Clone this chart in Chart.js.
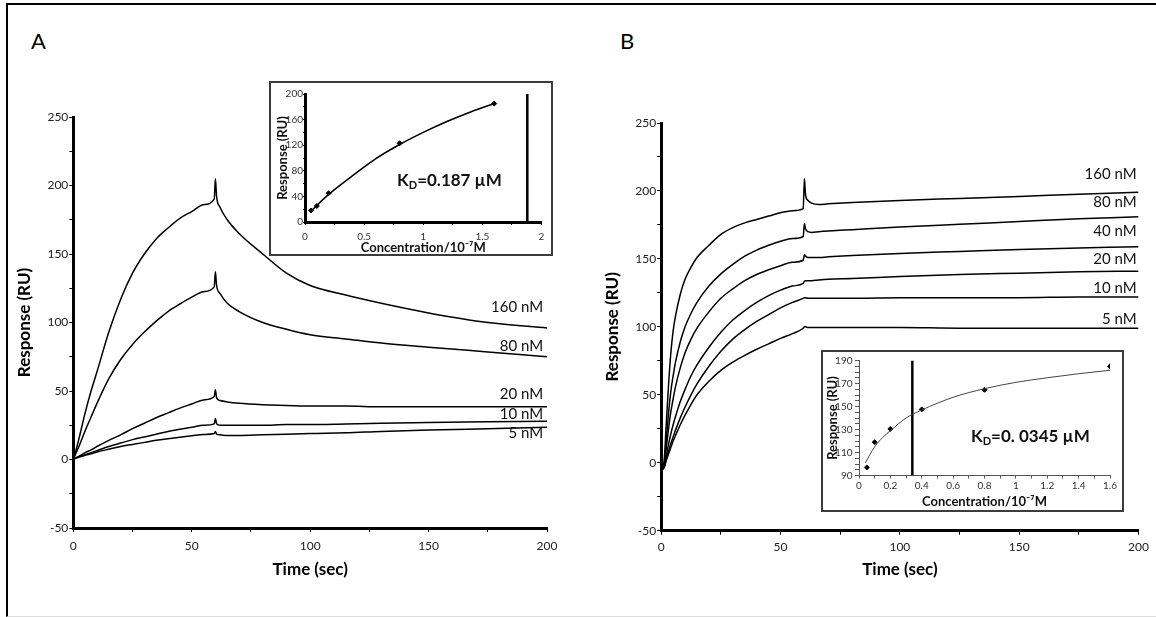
<!DOCTYPE html>
<html>
<head>
<meta charset="utf-8">
<script src="https://cdn.jsdelivr.net/npm/chart.js@4.4.1/dist/chart.umd.min.js"></script>
<style>
html, body { margin: 0; padding: 0; background: #fff; }
body { width: 1156px; height: 617px; position: relative; overflow: hidden; font-family: Lato, "Open Sans", sans-serif; }
.frame { position: absolute; left: 6px; top: 3px; width: 1150px; height: 611px; border-top: 2px solid #000; border-left: 2px solid #000; border-bottom: 1px solid #ddd; }
.letter { position: absolute; font-size: 22px; line-height: 1; color: #000; }
.box { position: absolute; box-sizing: border-box; border: 2px solid #3c3c3c; background: #fff; }
canvas { position: absolute; }
</style>
</head>
<body>
<div class="frame"></div>
<div class="letter" style="left:31px; top:30px;">A</div>
<div class="letter" style="left:620px; top:30px;">B</div>

<canvas id="mainA" width="560" height="490" style="left:10px; top:95px;"></canvas>
<canvas id="mainB" width="556" height="485" style="left:598px; top:100px;"></canvas>

<div class="box" style="left:269px; top:81px; width:284px; height:175px;"></div>
<canvas id="insetA" width="280" height="171" style="left:271px; top:83px;"></canvas>

<div class="box" style="left:821px; top:350px; width:303px; height:162px;"></div>
<canvas id="insetB" width="299" height="158" style="left:823px; top:352px;"></canvas>

<script>
// ---- panel A sensorgram (time in s, response in RU) ----
var timeA = [0, 1, 2.5, 5, 7.5, 10, 15, 20, 25, 30, 35, 40, 45, 50, 55, 59.5, 60, 60.5, 62, 65, 70, 80, 90, 100, 115, 130, 150, 175, 200];
var a160 = [0, 6, 16, 34, 50, 64, 93, 117, 136, 150, 161, 169, 176, 181, 186, 190, 205, 192, 184, 175, 165, 150, 136, 127, 120, 114, 107, 100, 96];
var a80  = [0, 4, 10, 21, 31, 41, 59, 73, 84, 93, 101, 108, 113.5, 118.5, 122.5, 126, 137, 127, 121, 114, 108, 100, 95, 91, 88, 85, 82, 78.5, 75];
var a20  = [0, 1, 2.5, 5, 7, 9.5, 14, 18, 22.5, 26.5, 30.5, 34, 37.5, 40.5, 43.5, 46, 51, 45, 43, 42, 41, 40, 39.5, 39, 39, 38.5, 38.5, 38.5, 38.5];
var a10  = [0, 1, 2, 3.5, 5, 6.5, 9.5, 12, 14.5, 16.5, 18.5, 20.5, 22, 23.5, 25, 26, 30, 26, 25, 25, 25, 25, 25.5, 25.5, 26, 26.5, 27, 27.5, 28];
var a5   = [0, 0.8, 1.8, 3, 4.2, 5.5, 7.5, 9.5, 11, 12.5, 14, 15.2, 16.3, 17.3, 18.3, 19, 20.5, 18.5, 18, 17.5, 17.5, 18, 18.5, 19, 19.5, 20.5, 21.5, 22.5, 23.5];
var namesA = ['160 nM', '80 nM', '20 nM', '10 nM', '5 nM'];
var labelYA = [111.3, 82.8, 47.8, 33.2, 19.0];

// ---- panel B sensorgram ----
var timeB = [0, 0.5, 1, 1.5, 2, 3, 4, 5, 6, 8, 10, 12.5, 15, 20, 25, 30, 35, 40, 45, 50, 55, 59.5, 60, 60.5, 61.5, 63, 66, 70, 80, 100, 125, 150, 175, 200];
var b160 = [0, -3, -2, 8, 25, 55, 80, 97, 108, 124, 135, 144, 151, 160, 168, 173, 176.5, 179, 181.5, 184, 185.5, 187, 209, 197, 193, 191, 190, 190.5, 191.5, 193, 194.5, 196, 197.5, 199];
var b80  = [0, -4, -3, 3, 14, 35, 52, 64, 74, 89, 100, 110, 118, 130, 139, 146, 152, 156.5, 160, 163, 165, 166.5, 176, 172, 170, 169.5, 170, 170.5, 171.5, 173.5, 175.5, 177.5, 179.5, 181];
var b40  = [0, -4, -4, 1, 9, 24, 37, 47, 56, 70, 81, 91, 99, 111, 121, 128, 134, 138.5, 142, 145, 147.5, 149, 153, 152, 151, 151, 151, 151.5, 152.5, 154, 155.5, 157, 158, 159];
var b20  = [0, -5, -4, -1, 4, 13, 21, 28, 34, 45, 54, 64, 72, 85, 96, 105, 112, 118, 123, 127, 130, 132, 133.5, 134, 134, 134, 134.5, 135, 135.5, 137, 138.5, 139.5, 140.5, 141];
var b10  = [0, -5, -4, -2, 2, 8, 14, 19, 24, 33, 41, 50, 58, 71, 82, 91, 98, 104, 109, 114, 118, 121, 121.5, 121.5, 121, 121, 121, 121, 121, 121.5, 121.5, 121.5, 122, 122];
var b5   = [0, -5, -4, -2, 1, 6, 11, 16, 20, 28, 35, 43, 50, 60, 68, 74, 79, 83.5, 87.5, 91.5, 95, 99, 100, 100, 99.5, 99.5, 99.5, 99.5, 99.5, 99.5, 99, 99, 99, 99];
var namesB = ['160 nM', '80 nM', '40 nM', '20 nM', '10 nM', '5 nM'];
var labelYB = [212, 191.9, 170.6, 150, 128.6, 105.8];

// ---- insets: steady-state response vs concentration (10^-7 M) ----
var concA = [0.05, 0.1, 0.2, 0.8, 1.6];
var respA = [18, 25, 45, 123, 185];
var fitXA = [0.05, 0.2, 0.4, 0.6, 0.8, 1.0, 1.2, 1.4, 1.6];
var fitYA = [17, 43, 72, 99, 121, 140, 157, 172, 185];
var kdA = 1.88;

var concB = [0.05, 0.1, 0.2, 0.4, 0.8, 1.6];
var respB = [97, 119, 130.5, 147.5, 164.5, 185];
var fitXB = [0.04, 0.1, 0.15, 0.2, 0.3, 0.4, 0.6, 0.8, 1.0, 1.2, 1.4, 1.6];
var fitYB = [101, 115, 123, 129, 140, 147, 158, 165.5, 171, 175, 178.5, 181.5];
var kdB = 0.34;

Chart.defaults.font.family = 'Lato, "Open Sans", sans-serif';
Chart.defaults.color = '#222';

function pts(xs, ys) {
    return xs.map(function (x, i) { return { x: x, y: ys[i] }; });
}

// concentration labels at the right end of each trace
var curveLabels = {
    id: 'curveLabels',
    afterDatasetsDraw: function (chart, args, opts) {
        if (!opts.names) return;
        var ctx = chart.ctx, xs = chart.scales.x, ys = chart.scales.y;
        ctx.save();
        ctx.font = '15px Lato';
        ctx.fillStyle = '#111';
        ctx.textAlign = 'right';
        ctx.textBaseline = 'middle';
        opts.names.forEach(function (n, i) {
            ctx.fillText(n, xs.getPixelForValue(opts.x), ys.getPixelForValue(opts.ys[i]));
        });
        ctx.restore();
    }
};

// K_D annotation with a subscript D
var kdLabel = {
    id: 'kdLabel',
    afterDatasetsDraw: function (chart, args, o) {
        if (!o.rest) return;
        var ctx = chart.ctx;
        var big = 'bold 17px Lato', small = 'bold 11px Lato';
        ctx.save();
        ctx.font = big;
        var wK = ctx.measureText('K').width, wR = ctx.measureText(o.rest).width;
        ctx.font = small;
        var wD = ctx.measureText('D').width;
        var px = chart.scales.x.getPixelForValue(o.x) - (wK + wD + wR) / 2;
        var py = chart.scales.y.getPixelForValue(o.y);
        ctx.fillStyle = '#111';
        ctx.textAlign = 'left';
        ctx.textBaseline = 'alphabetic';
        ctx.font = big; ctx.fillText('K', px, py + 6); px += wK;
        ctx.font = small; ctx.fillText('D', px, py + 9); px += wD;
        ctx.font = big; ctx.fillText(o.rest, px, py + 6);
        ctx.restore();
    }
};

function traces(times, series) {
    return series.map(function (s) {
        return {
            data: pts(times, s),
            borderColor: '#000',
            borderWidth: 1.5,
            pointRadius: 0,
            fill: false,
            cubicInterpolationMode: 'monotone'
        };
    });
}

function mainOptions(o) {
    return {
        responsive: false,
        animation: false,
        events: [],
        layout: { padding: { left: 0, top: o.padTop, right: o.padRight, bottom: 0 } },
        plugins: {
            legend: { display: false },
            tooltip: { enabled: false },
            curveLabels: { names: o.names, ys: o.labelY, x: o.labelX }
        },
        scales: {
            x: {
                type: 'linear', min: 0, max: 200,
                afterFit: function (s) { s.height = o.xHeight; },
                border: { width: 3, color: '#000' },
                grid: { drawOnChartArea: false, tickLength: 4, color: '#000' },
                ticks: {
                    stepSize: 25, autoSkip: false, maxRotation: 0, padding: o.xPad,
                    font: { size: 12 },
                    callback: function (v) { return v % 50 === 0 ? String(v) : ''; }
                },
                title: { display: true, text: 'Time (sec)', color: '#000', font: { size: 17, weight: 'bold' }, padding: { top: 0, bottom: 5 } }
            },
            y: {
                type: 'linear', min: -50, max: 250,
                afterFit: function (s) { s.width = o.yWidth; },
                border: { width: 3, color: '#000' },
                grid: { drawOnChartArea: false, tickLength: 4, color: '#000' },
                ticks: {
                    stepSize: 25, autoSkip: false, padding: 1,
                    font: { size: 12 },
                    callback: function (v) { return v % 50 === 0 ? String(v) : ''; }
                },
                title: { display: true, text: 'Response (RU)', color: '#000', font: { size: 17, weight: 'bold' }, padding: { top: 4, bottom: 0 } }
            }
        }
    };
}

new Chart(document.getElementById('mainA'), {
    type: 'line',
    data: { datasets: traces(timeA, [a160, a80, a20, a10, a5]) },
    options: mainOptions({ padTop: 22, padRight: 23, xHeight: 57, yWidth: 63.3, xPad: 7, names: namesA, labelY: labelYA, labelX: 198.4 }),
    plugins: [curveLabels]
});

new Chart(document.getElementById('mainB'), {
    type: 'line',
    data: { datasets: traces(timeB, [b160, b80, b40, b20, b10, b5]) },
    options: mainOptions({ padTop: 23, padRight: 15, xHeight: 54.3, yWidth: 63.2, xPad: 5, names: namesB, labelY: labelYB, labelX: 199.2 }),
    plugins: [curveLabels]
});

function insetOptions(o) {
    return {
        responsive: false,
        animation: false,
        events: [],
        layout: { padding: { left: 0, top: o.padTop, right: o.padRight, bottom: 0 } },
        plugins: {
            legend: { display: false },
            tooltip: { enabled: false },
            kdLabel: o.kd
        },
        scales: {
            x: {
                type: 'linear', min: o.xMin, max: o.xMax,
                afterFit: function (s) { s.height = o.xHeight; },
                border: { width: o.axisWidth, color: o.axisColor },
                grid: { drawOnChartArea: false, tickLength: 3, color: o.axisColor },
                ticks: { stepSize: o.xStep, autoSkip: false, maxRotation: 0, padding: o.xPad, color: '#333', font: { size: 10 }, callback: o.xLabel },
                title: { display: true, text: 'Concentration/10⁻⁷M', color: '#111', font: { size: 13, weight: 'bold', lineHeight: o.xTitleLH }, padding: { top: 0, bottom: 0 } }
            },
            y: {
                type: 'linear', min: o.yMin, max: o.yMax,
                afterFit: function (s) { s.width = o.yWidth; },
                border: { width: o.axisWidth, color: o.axisColor },
                grid: { drawOnChartArea: false, tickLength: o.yTick, color: o.axisColor },
                ticks: { stepSize: o.yStep, autoSkip: false, padding: o.yPad, color: '#333', font: { size: 10 }, callback: o.yLabel },
                title: { display: true, text: 'Response (RU)', color: '#111', font: { size: 13, weight: 'bold' }, padding: { top: o.yTitlePad, bottom: 0 } }
            }
        }
    };
}

new Chart(document.getElementById('insetA'), {
    type: 'line',
    data: {
        datasets: [
            { data: pts(fitXA, fitYA), borderColor: '#000', borderWidth: 1.6, pointRadius: 0, cubicInterpolationMode: 'monotone' },
            { data: pts(concA, respA), showLine: false, pointStyle: 'rectRot', pointRadius: 2.5, pointBackgroundColor: '#000', pointBorderColor: '#000' },
            { data: [{ x: kdA, y: 0 }, { x: kdA, y: 200 }], borderColor: '#000', borderWidth: 2.5, pointRadius: 0 }
        ]
    },
    options: insetOptions({
        padTop: 11, padRight: 9.5, xHeight: 32, yWidth: 34, xPad: 6, xTitleLH: 1.0, yTick: 2, yPad: 0, yTitlePad: 4,
        axisWidth: 3, axisColor: '#000',
        xMin: 0, xMax: 2, xStep: 0.25, yMin: 0, yMax: 200, yStep: 20,
        xLabel: function (v) { return v % 0.5 === 0 ? String(v) : ''; },
        yLabel: function (v) { return v % 40 === 0 ? String(v) : ''; },
        kd: { x: 1.222, y: 65.6, rest: '=0.187 µM' }
    }),
    plugins: [kdLabel]
});

new Chart(document.getElementById('insetB'), {
    type: 'line',
    data: {
        datasets: [
            { data: pts(fitXB, fitYB), borderColor: '#444', borderWidth: 1, pointRadius: 0, cubicInterpolationMode: 'monotone' },
            { data: pts(concB, respB), showLine: false, pointStyle: 'rectRot', pointRadius: 2.5, pointBackgroundColor: '#000', pointBorderColor: '#000' },
            { data: [{ x: kdB, y: 90 }, { x: kdB, y: 190 }], borderColor: '#000', borderWidth: 2.5, pointRadius: 0 }
        ]
    },
    options: insetOptions({
        padTop: 7.5, padRight: 12, xHeight: 34.5, yWidth: 36, xPad: 1, xTitleLH: 1.2, yTick: 4, yPad: 2.5, yTitlePad: 2,
        axisWidth: 1, axisColor: '#555',
        xMin: 0, xMax: 1.6, xStep: 0.1, yMin: 90, yMax: 190, yStep: 5,
        xLabel: function (v) { var r = Math.round(v * 10); return r % 2 === 0 ? String(r / 10) : ''; },
        yLabel: function (v) { return (v - 90) % 20 === 0 ? String(v) : ''; },
        kd: { x: 1.093, y: 124, rest: '=0. 0345 µM' }
    }),
    plugins: [kdLabel]
});
</script>
</body>
</html>
